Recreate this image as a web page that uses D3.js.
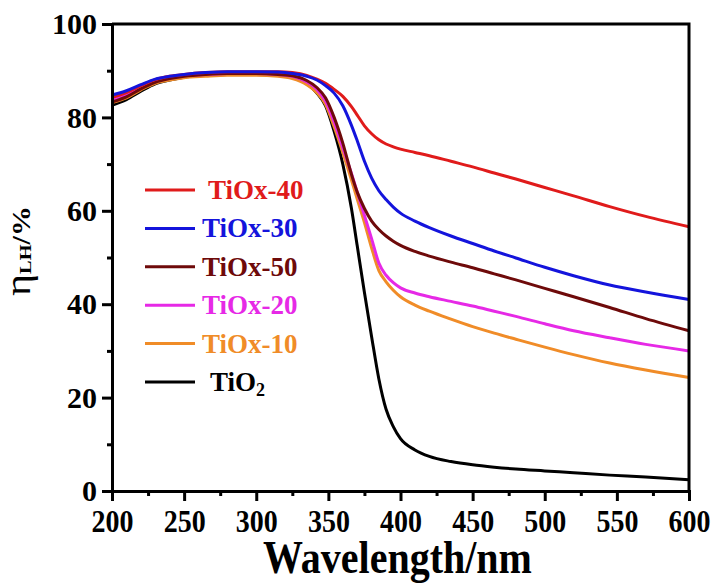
<!DOCTYPE html>
<html>
<head>
<meta charset="utf-8">
<script src="https://cdn.jsdelivr.net/npm/d3@7"></script>
<style>
  html, body { margin: 0; padding: 0; background: #fff; }
  svg { display: block; font-family: "Liberation Serif", "Times New Roman", serif; font-weight: bold; }
  svg text { font-family: "Liberation Serif", "Times New Roman", serif; font-weight: bold; }
</style>
</head>
<body>
<svg id="chart"></svg>
<script>
// wavelength grid (nm) shared by every curve
const wavelengths = [200, 210, 220, 230, 240, 250, 265, 280, 300, 315, 325, 335, 342, 348, 354, 360, 366, 370, 375, 380,
  385, 390, 395, 400, 410, 420, 435, 450, 465, 480, 500, 520, 545, 570, 600]

const tio2 = [82.6, 83.8, 85.6, 87.2, 88.0, 88.6, 89.0, 89.2, 89.2, 89.0, 88.6, 87.3, 85.2, 82.5, 77.0, 70.0, 60.5, 52.5, 42.5, 33.0,
  24.0, 17.5, 13.8, 11.2, 8.8, 7.4, 6.3, 5.6, 5.1, 4.7, 4.3, 3.9, 3.4, 3.0, 2.4]
const tiox10 = [83.2, 84.2, 85.9, 87.3, 88.0, 88.5, 88.8, 89.0, 89.0, 88.8, 88.3, 87.0, 85.3, 82.8, 78.0, 72.5, 66.6, 62.5, 57.5, 52.0,
  47.2, 44.8, 43.0, 41.6, 39.8, 38.5, 36.8, 35.2, 33.8, 32.5, 30.8, 29.2, 27.4, 25.9, 24.3]
const tiox20 = [83.8, 84.8, 86.3, 87.7, 88.4, 88.9, 89.2, 89.4, 89.4, 89.2, 88.8, 87.6, 86.0, 83.5, 79.0, 73.5, 68.0, 64.0, 59.0, 54.0,
  48.8, 46.2, 44.6, 43.5, 42.4, 41.6, 40.6, 39.6, 38.5, 37.4, 35.8, 34.3, 32.8, 31.4, 30.0]
const tiox50 = [83.3, 84.4, 86.1, 87.5, 88.3, 88.8, 89.2, 89.4, 89.4, 89.2, 88.9, 87.9, 86.4, 84.2, 80.0, 74.5, 67.8, 64.0, 60.5, 57.8,
  56.0, 54.6, 53.5, 52.6, 51.3, 50.3, 49.0, 47.8, 46.5, 45.2, 43.4, 41.6, 39.3, 36.9, 34.3]
const tiox30 = [84.8, 85.7, 87.0, 88.2, 88.8, 89.2, 89.6, 89.8, 89.8, 89.7, 89.4, 88.8, 88.0, 86.8, 85.2, 82.5, 78.3, 75.0, 70.6, 67.0,
  64.3, 62.4, 60.8, 59.5, 57.8, 56.4, 54.6, 53.0, 51.4, 49.9, 47.9, 46.1, 44.1, 42.6, 41.0]
const tiox40 = [84.3, 85.3, 86.8, 88.1, 88.8, 89.2, 89.6, 89.8, 89.8, 89.8, 89.6, 89.0, 88.2, 87.3, 86.0, 84.5, 82.3, 80.5, 78.2, 76.5,
  75.2, 74.3, 73.7, 73.2, 72.5, 71.8, 70.6, 69.4, 68.1, 66.8, 65.0, 63.2, 60.9, 58.8, 56.6]

// legend order, top to bottom
const legendNames = ["TiOx-40", "TiOx-30", "TiOx-50", "TiOx-20", "TiOx-10", "TiO2"]
const legendColors = ["#e01b1b", "#1414dc", "#6e0a0a", "#e629e6", "#f08c28", "#000000"]

const xTicks = [200, 250, 300, 350, 400, 450, 500, 550, 600]
const yTicks = [0, 20, 40, 60, 80, 100]

const width = 714, height = 583
const margin = {top: 24, right: 25, bottom: 92, left: 112}

const svg = d3.select("#chart")
  .attr("width", width)
  .attr("height", height)

const x = d3.scaleLinear().domain([200, 600]).range([margin.left, width - margin.right])
const y = d3.scaleLinear().domain([0, 100]).range([height - margin.bottom, margin.top])

const seriesByName = {
  "TiOx-40": tiox40,
  "TiOx-30": tiox30,
  "TiOx-50": tiox50,
  "TiOx-20": tiox20,
  "TiOx-10": tiox10,
  "TiO2": tio2
}

// draw black first so the coloured curves sit on top
const drawOrder = ["TiO2", "TiOx-10", "TiOx-20", "TiOx-50", "TiOx-40", "TiOx-30"]

const line = d3.line()
  .x(d => x(d[0]))
  .y(d => y(d[1]))
  .curve(d3.curveMonotoneX)

svg.append("g")
  .selectAll("path")
  .data(drawOrder)
  .enter().append("path")
  .attr("fill", "none")
  .attr("stroke", name => legendColors[legendNames.indexOf(name)])
  .attr("stroke-width", 3)
  .attr("stroke-linejoin", "round")
  .attr("d", name => line(wavelengths.map((w, i) => [w, seriesByName[name][i]])))

// frame: top and right lines
const x0 = x.range()[0], x1 = x.range()[1]
const y0 = y.range()[0], y1 = y.range()[1]

svg.append("path")
  .attr("fill", "none")
  .attr("stroke", "#000")
  .attr("stroke-width", 3)
  .attr("d", `M${x0},${y1}H${x1}V${y0}`)

// axes: minor ticks in their own group, major ticks with labels
const xMinor = svg.append("g").attr("transform", `translate(0,${y0})`)
  .call(d3.axisBottom(x).tickValues(d3.range(225, 600, 50)).tickSize(5).tickFormat(""))
const xAxisG = svg.append("g").attr("transform", `translate(0,${y0})`)
  .call(d3.axisBottom(x).tickValues(xTicks).tickSize(10).tickPadding(6))

const yMinor = svg.append("g").attr("transform", `translate(${x0},0)`)
  .call(d3.axisLeft(y).tickValues(d3.range(10, 100, 20)).tickSize(5).tickFormat(""))
const yAxisG = svg.append("g").attr("transform", `translate(${x0},0)`)
  .call(d3.axisLeft(y).tickValues(yTicks).tickSize(10).tickPadding(5))

xMinor.selectAll(".tick text").remove()
yMinor.selectAll(".tick text").remove()

svg.selectAll(".domain")
  .attr("stroke", "#000")
  .attr("stroke-width", 3)
svg.selectAll(".tick line")
  .attr("stroke", "#000")
  .attr("stroke-width", 3)
svg.selectAll(".tick text")
  .attr("font-family", "Liberation Serif")
  .style("font-family", "'Liberation Serif', serif")
  .style("font-weight", "bold")
  .attr("fill", "#000")

xAxisG.selectAll(".tick text")
  .style("font-size", "28px")
  .attr("y", 0)
  .attr("dy", 0)
  .attr("transform", "translate(0,41) scale(1,1.15)")

yAxisG.selectAll(".tick text")
  .style("font-size", "30px")

// axis titles
svg.append("text")
  .attr("transform", `translate(${(x0 + x1) / 2 - 3},573) scale(1,1.15)`)
  .attr("text-anchor", "middle")
  .style("font-size", "40px")
  .text("Wavelength/nm")

const yTitle = svg.append("text")
  .attr("transform", "translate(30,251) rotate(-90) scale(1.2,1)")
  .attr("text-anchor", "middle")
yTitle.append("tspan").style("font-size", "35px").style("font-weight", "normal").text("η")
yTitle.append("tspan").style("font-size", "17px").attr("dy", 1).text("LH")
yTitle.append("tspan").style("font-size", "25px").attr("dy", -1).text("/%")

// legend
const legend = svg.append("g")
  .selectAll("g")
  .data(legendNames)
  .enter().append("g")
  .attr("transform", (d, i) => `translate(145,${190 + i * 38.4})`)

legend.append("line")
  .attr("x1", 0)
  .attr("x2", 50)
  .attr("stroke", (d, i) => legendColors[i])
  .attr("stroke-width", 3)

const legendText = legend.append("text")
  .attr("x", d => d === "TiOx-40" ? 63 : d === "TiO2" ? 65 : 57)
  .attr("y", 9)
  .style("font-size", "27px")
  .attr("fill", (d, i) => legendColors[i])

legendText.each(function (d) {
  const t = d3.select(this)
  if (d === "TiO2") {
    t.append("tspan").text("TiO")
    t.append("tspan").style("font-size", "18px").attr("dy", 5).text("2")
  } else {
    t.text(d)
  }
})
</script>
</body>
</html>
